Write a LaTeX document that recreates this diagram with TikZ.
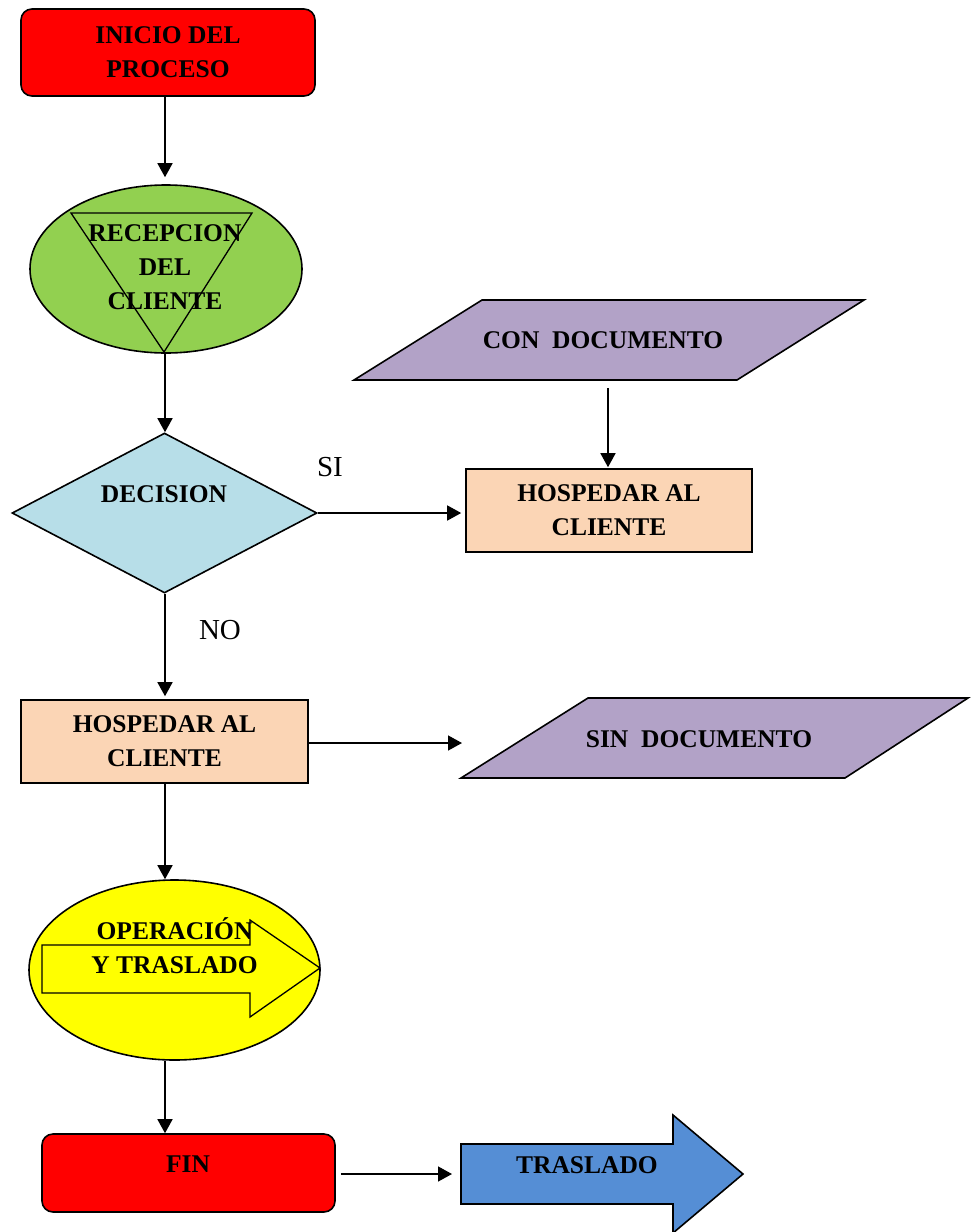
\documentclass[tikz,border=0pt]{standalone}
\usepackage{fontspec}
\setmainfont{Liberation Serif}
\usetikzlibrary{arrows.meta,shapes.geometric}

\definecolor{termred}{HTML}{FF0000}
\definecolor{recgreen}{HTML}{92D050}
\definecolor{decblue}{HTML}{B7DEE8}
\definecolor{docpurple}{HTML}{B2A2C7}
\definecolor{procpeach}{HTML}{FBD5B5}
\definecolor{opyellow}{HTML}{FFFF00}
\definecolor{movblue}{HTML}{558ED5}

\tikzset{
  outline/.style={draw=black, line width=1.6pt},
  thinoutline/.style={draw=black, line width=1.3pt},
  boxtext/.style={font=\bfseries\fontsize{25.5}{34}\selectfont, align=center, inner sep=0pt},
  plaintext/.style={font=\fontsize{29}{34}\selectfont, inner sep=0pt},
  flow/.style={line width=1.5pt, -{Triangle[length=14pt,width=15pt]}},
  terminal/.style={outline, rounded corners=11pt, fill=termred, boxtext},
  procbox/.style={outline, fill=procpeach, boxtext, minimum width=286pt, minimum height=83pt},
}

\begin{document}
\begin{tikzpicture}[x=1pt, y=-1pt]
  \fill[white] (0,0) rectangle (972,1232);
  \useasboundingbox (0,0) rectangle (972,1232);

  % main column of vertical connectors
  \coordinate (col) at (165,0);

  % start
  \node[terminal, minimum width=294pt, minimum height=87pt] (inicio) at (168,52.5) {INICIO DEL\\PROCESO};

  % reception: ellipse with an inverted triangle
  \node[ellipse, outline, fill=recgreen, minimum width=272pt, minimum height=168pt, inner sep=0pt] (recep) at (166,269) {};
  \draw[thinoutline] (71,213) -- (252,213) -- (164,352) -- cycle;
  \node[boxtext] (receptext) at (165,267) {RECEPCION\\DEL\\CLIENTE};

  % decision
  \node[diamond, outline, fill=decblue, minimum width=305pt, minimum height=160pt, inner sep=0pt] (dec) at (164.5,513) {};
  \node[boxtext] (dectext) at (164,494) {DECISION};
  \node[plaintext] (si) at (330,467) {SI};
  \node[plaintext] (no) at (220,630) {NO};

  % with document
  \filldraw[outline, fill=docpurple] (482,300) -- (864,300) -- (737,380) -- (354,380) -- cycle;
  \node[boxtext] (condoc) at (603,340) {CON\ \ DOCUMENTO};
  \coordinate (condocout) at (608,388);

  % lodging boxes
  \node[procbox] (hosp1) at (609,510.5) {HOSPEDAR AL\\CLIENTE};
  \node[procbox, minimum width=287pt] (hosp2) at (164.5,741.5) {HOSPEDAR AL\\CLIENTE};

  % without document
  \filldraw[outline, fill=docpurple] (588,698) -- (968,698) -- (845,778) -- (461,778) -- cycle;
  \node[boxtext] (sindoc) at (699,739) {SIN\ \ DOCUMENTO};
  \coordinate (sinin) at (462,743);

  % operation and transfer: ellipse with a block arrow
  \node[ellipse, outline, fill=opyellow, minimum width=291pt, minimum height=180pt, inner sep=0pt] (oper) at (174.5,970) {};
  \filldraw[thinoutline, fill=opyellow] (42,945) -- (250,945) -- (250,920) -- (320,968)
    -- (250,1017) -- (250,993) -- (42,993) -- cycle;
  \node[boxtext] (opertext) at (174.5,945.5) {OPERACIÓN\\Y TRASLADO};

  % end
  \node[terminal, minimum width=293pt, minimum height=78pt] (fin) at (188.5,1173) {};
  \node[boxtext] (fintext) at (188,1164) {FIN};

  % transfer block arrow
  \filldraw[outline, fill=movblue] (461,1144) -- (673,1144) -- (673,1115) -- (743,1174)
    -- (673,1233) -- (673,1204) -- (461,1204) -- cycle;
  \node[boxtext] (trasl) at (587,1165) {TRASLADO};
  \coordinate (traslin) at (461,1174);

  % connectors
  \draw[flow, shorten >=7pt] (inicio.south -| col) -- (recep.north -| col);
  \draw[flow] (recep.south -| col) -- (dec.north -| col);
  \draw[flow, shorten >=4pt] (dec.east) -- (dec.east -| hosp1.west);
  \draw[flow, shorten >=1pt] (condocout) -- (hosp1.north -| condocout);
  \draw[flow, shorten >=3pt] (dec.south -| col) -- (hosp2.north -| col);
  \draw[flow] ([yshift=-1.5pt]hosp2.east) -- ([yshift=-1.5pt]hosp2.east -| sinin);
  \draw[flow] (hosp2.south -| col) -- (oper.north -| col);
  \draw[flow] (oper.south -| col) -- (fin.north -| col);
  \draw[flow, shorten <=5pt, shorten >=9pt] (fin.east |- traslin) -- (traslin);
\end{tikzpicture}
\end{document}
